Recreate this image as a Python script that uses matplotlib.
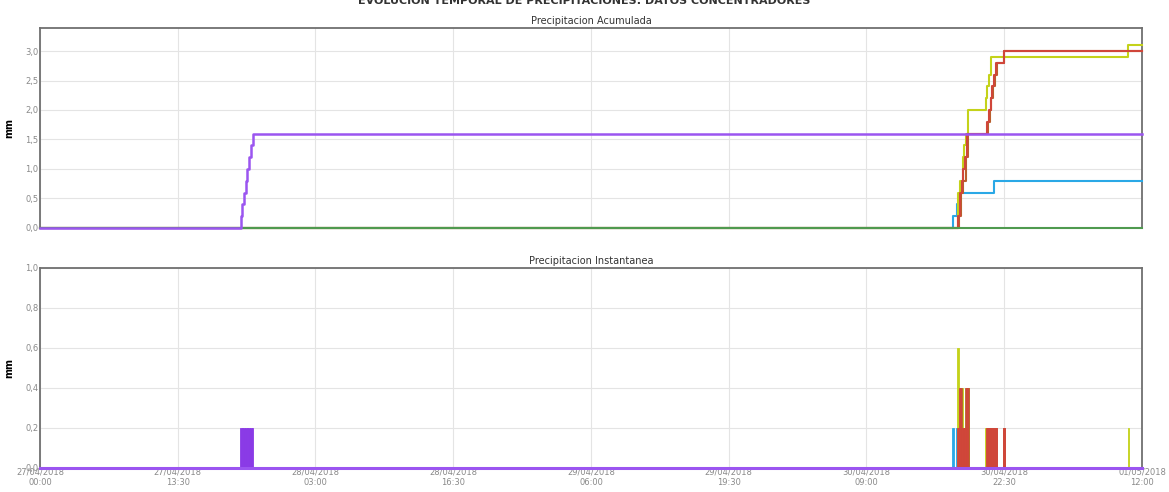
import matplotlib.pyplot as plt
import matplotlib.dates as mdates
import numpy as np
import pandas as pd

# time span of the chart
t_start = "2018-04-27 00:00"
t_end = "2018-05-01 12:00"

# instantaneous rain events per station (time, mm)
purple_t = ["2018-04-27 19:40", "2018-04-27 19:50", "2018-04-27 20:00", "2018-04-27 20:10",
            "2018-04-27 20:20", "2018-04-27 20:30", "2018-04-27 20:40", "2018-04-27 20:50"]
purple_v = [0.2, 0.2, 0.2, 0.2, 0.2, 0.2, 0.2, 0.2]

blue_t = ["2018-04-30 17:30", "2018-04-30 17:50", "2018-04-30 18:10", "2018-04-30 21:30"]
blue_v = [0.2, 0.2, 0.2, 0.2]

yellow_t = ["2018-04-30 18:00", "2018-04-30 18:10", "2018-04-30 18:25", "2018-04-30 18:35",
            "2018-04-30 18:45", "2018-04-30 18:55", "2018-04-30 20:40", "2018-04-30 20:50",
            "2018-04-30 21:00", "2018-04-30 21:10", "2018-04-30 21:15", "2018-05-01 10:40"]
yellow_v = [0.6, 0.2, 0.4, 0.2, 0.2, 0.4, 0.2, 0.2, 0.2, 0.1, 0.2, 0.2]

orange_t = ["2018-04-30 18:05", "2018-04-30 18:15", "2018-04-30 18:30", "2018-04-30 18:45",
            "2018-04-30 18:55", "2018-04-30 20:55", "2018-04-30 21:05", "2018-04-30 21:15",
            "2018-04-30 21:25", "2018-04-30 21:35", "2018-04-30 21:45", "2018-04-30 22:30"]
orange_v = [0.2, 0.4, 0.2, 0.4, 0.4, 0.2, 0.2, 0.2, 0.2, 0.2, 0.2, 0.2]

red_t = ["2018-04-30 18:00", "2018-04-30 18:10", "2018-04-30 18:20", "2018-04-30 18:30",
         "2018-04-30 18:40", "2018-04-30 18:50", "2018-04-30 20:50", "2018-04-30 21:00",
         "2018-04-30 21:10", "2018-04-30 21:20", "2018-04-30 21:30", "2018-04-30 21:40",
         "2018-04-30 22:30"]
red_v = [0.2, 0.4, 0.2, 0.2, 0.2, 0.4, 0.2, 0.2, 0.2, 0.2, 0.2, 0.2, 0.2]

green_t = []
green_v = []

c_purple = "#9b55f0"
c_purple_bar = "#8a3ae6"
c_blue = "#2aa8e6"
c_yellow = "#c4d21a"
c_orange = "#b8602e"
c_red = "#d0463a"
c_green = "#4f9a4f"

# draw order: bottom first
stations = [
    (blue_t, blue_v, c_blue, c_blue),
    (yellow_t, yellow_v, c_yellow, c_yellow),
    (orange_t, orange_v, c_orange, c_orange),
    (red_t, red_v, c_red, c_red),
    (green_t, green_v, c_green, c_green),
    (purple_t, purple_v, c_purple, c_purple_bar),
]

t0 = pd.Timestamp(t_start)
t1 = pd.Timestamp(t_end)
ticks = pd.date_range(t0, t1, periods=9)

fig = plt.figure(figsize=(11.69, 4.92), dpi=100)
ax1 = fig.add_axes([0.0342, 0.5366, 0.9427, 0.4065])
ax2 = fig.add_axes([0.0342, 0.0488, 0.9427, 0.4065])

for times, vals, col, bcol in stations:
    tt = pd.to_datetime(times)
    cum = np.cumsum(vals) if len(vals) else np.array([])
    xs = [t0] + list(tt) + [t1]
    ys = [0.0] + list(cum) + [cum[-1] if len(cum) else 0.0]
    lw = 1.8 if col == c_purple else 1.5
    ax1.plot(xs, ys, drawstyle="steps-post", color=col, lw=lw, zorder=3, clip_on=False)
    if len(vals):
        ax2.bar(tt, vals, width=1 / 144, color=bcol, edgecolor=bcol,
                align="center", lw=0.6)

ax2.axhline(0, color=c_purple, lw=2.2, zorder=5, clip_on=False)

def fmt(v, pos):
    return f"{v:.1f}".replace(".", ",")

for ax, top, yt, title in [(ax1, 3.39, np.arange(0, 3.01, 0.5), "Precipitacion Acumulada"),
                            (ax2, 1.0, np.arange(0, 1.01, 0.2), "Precipitacion Instantanea")]:
    ax.set_xlim(t0, t1)
    ax.set_ylim(0, top)
    ax.set_yticks(yt)
    ax.yaxis.set_major_formatter(plt.FuncFormatter(fmt))
    ax.set_xticks(ticks)
    ax.grid(True, color="#e4e4e4", lw=0.8)
    ax.set_axisbelow(True)
    for s in ax.spines.values():
        s.set_color("#707070")
        s.set_linewidth(1.3)
    ax.tick_params(length=0, labelsize=6, colors="#8a8a8a", pad=1)
    ax.set_ylabel("mm", fontsize=7, fontweight="bold", labelpad=8)
    ax.set_title(title, fontsize=7, color="#333333", pad=3)

ax1.set_xticklabels([])
ax2.xaxis.set_major_formatter(mdates.DateFormatter("%d/%m/%Y\n%H:%M"))
ax2.tick_params(axis="x", pad=0)

fig.text(0.5, 0.998, "EVOLUCION TEMPORAL DE PRECIPITACIONES: DATOS CONCENTRADORES",
         ha="center", va="center", fontsize=8, fontweight="bold", color="#333333")

fig.savefig("out.png", dpi=100)
